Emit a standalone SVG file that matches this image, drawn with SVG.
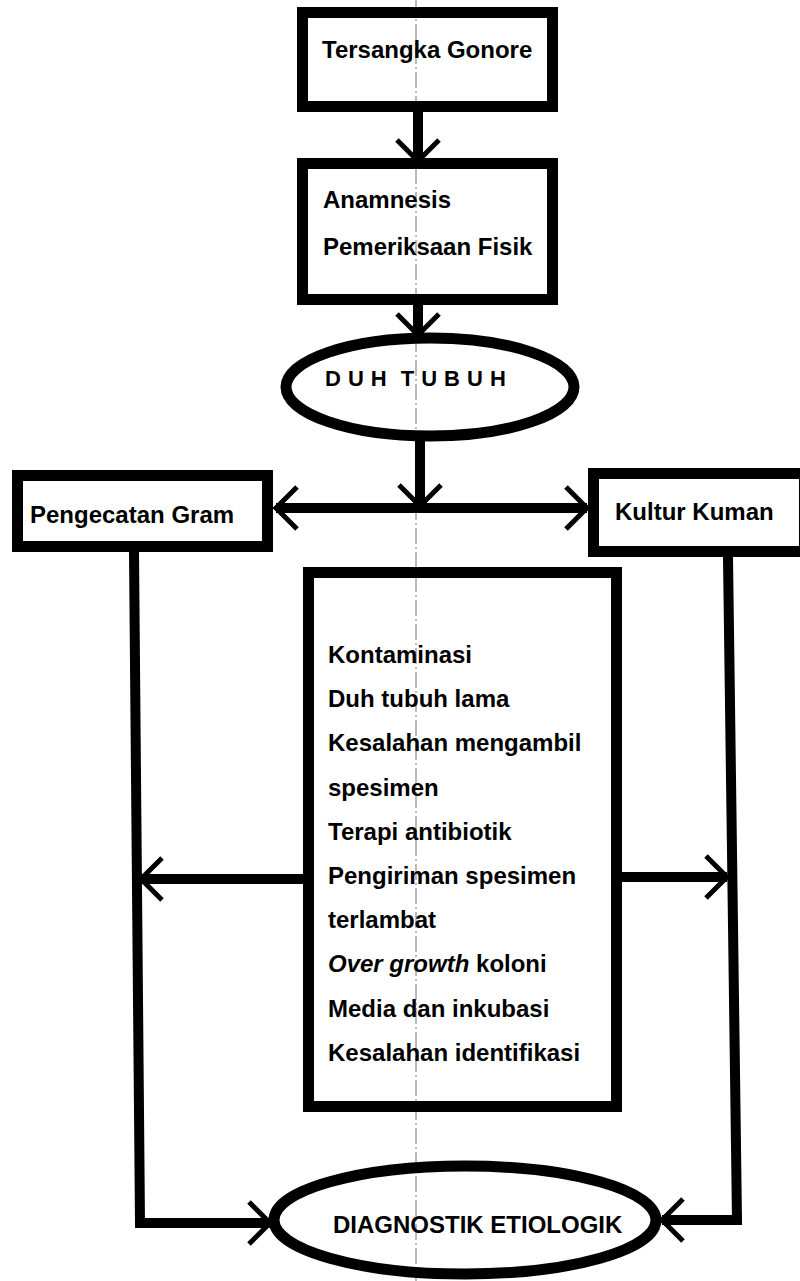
<svg xmlns="http://www.w3.org/2000/svg" width="800" height="1281" viewBox="0 0 800 1281">
<style>
.box{fill:none;stroke:#000;stroke-width:11}
.ell{fill:none;stroke:#000;stroke-width:11}
.lbl{font-family:"Liberation Sans",Arial,Helvetica,sans-serif;font-weight:bold;font-size:24px;fill:#000}
.conn{fill:none;stroke:#000;stroke-width:10;stroke-linejoin:miter}
.axis{stroke:#777;stroke-width:1;stroke-dasharray:16 3 2 3;fill:none}
</style>
<defs>
<marker id="chev" viewBox="-26 -26 30 52" markerWidth="30" markerHeight="52" refX="0" refY="0" orient="auto" markerUnits="userSpaceOnUse">
<path d="M-21,-21 L0,0 L-21,21" fill="none" stroke="#000" stroke-width="5"/>
</marker>
</defs>
<rect width="800" height="1281" fill="#fff"/>
<line class="axis" x1="416" y1="0" x2="416" y2="1281"/>

<g id="connectors">
<line class="conn" x1="418" y1="112" x2="418" y2="161" marker-end="url(#chev)"/>
<line class="conn" x1="418" y1="305" x2="418" y2="335" marker-end="url(#chev)"/>
<line class="conn" x1="420" y1="441" x2="420" y2="506" marker-end="url(#chev)"/>
<line class="conn" x1="420" y1="508" x2="276" y2="508" marker-end="url(#chev)"/>
<line class="conn" x1="420" y1="508" x2="587" y2="508" marker-end="url(#chev)"/>
<polyline class="conn" points="134,552 140,1223 270,1223" marker-end="url(#chev)"/>
<polyline class="conn" points="728,557 737,1220 662,1220" marker-end="url(#chev)"/>
<line class="conn" x1="304" y1="879" x2="141" y2="879" marker-end="url(#chev)"/>
<line class="conn" x1="621" y1="877" x2="727" y2="877" marker-end="url(#chev)"/>
</g>

<g id="tersangka">
<rect class="box" x="302.5" y="12.5" width="250" height="94"/>
<text class="lbl" x="322" y="58">Tersangka Gonore</text>
</g>

<g id="anamnesis">
<rect class="box" x="302.5" y="163.5" width="250" height="136"/>
<text class="lbl" x="323" y="208">Anamnesis</text>
<text class="lbl" x="323" y="255">Pemeriksaan Fisik</text>
</g>

<g id="duh-tubuh">
<ellipse class="ell" cx="430" cy="387" rx="144" ry="49" stroke-width="10"/>
<text class="lbl" x="325" y="386" style="font-size:22px;letter-spacing:7px;word-spacing:-6px">DUH TUBUH</text>
</g>

<g id="pengecatan">
<rect class="box" x="17.5" y="475.5" width="250" height="71"/>
<text class="lbl" x="30" y="523">Pengecatan Gram</text>
</g>

<g id="kultur">
<rect class="box" x="593.5" y="473.5" width="211" height="78"/>
<text class="lbl" x="615" y="520">Kultur Kuman</text>
</g>

<g id="faktor">
<rect class="box" x="308.5" y="572.5" width="308" height="534"/>
<text class="lbl" x="328" y="663">Kontaminasi</text>
<text class="lbl" x="328" y="707">Duh tubuh lama</text>
<text class="lbl" x="328" y="751">Kesalahan mengambil</text>
<text class="lbl" x="328" y="796">spesimen</text>
<text class="lbl" x="328" y="840">Terapi antibiotik</text>
<text class="lbl" x="328" y="884">Pengiriman spesimen</text>
<text class="lbl" x="328" y="928">terlambat</text>
<text class="lbl" x="328" y="972"><tspan font-style="italic">Over growth</tspan> koloni</text>
<text class="lbl" x="328" y="1017">Media dan inkubasi</text>
<text class="lbl" x="328" y="1061">Kesalahan identifikasi</text>
</g>

<g id="diagnostik">
<ellipse class="ell" cx="465" cy="1220" rx="191" ry="54" stroke-width="12"/>
<text class="lbl" x="333" y="1233">DIAGNOSTIK ETIOLOGIK</text>
</g>
</svg>
